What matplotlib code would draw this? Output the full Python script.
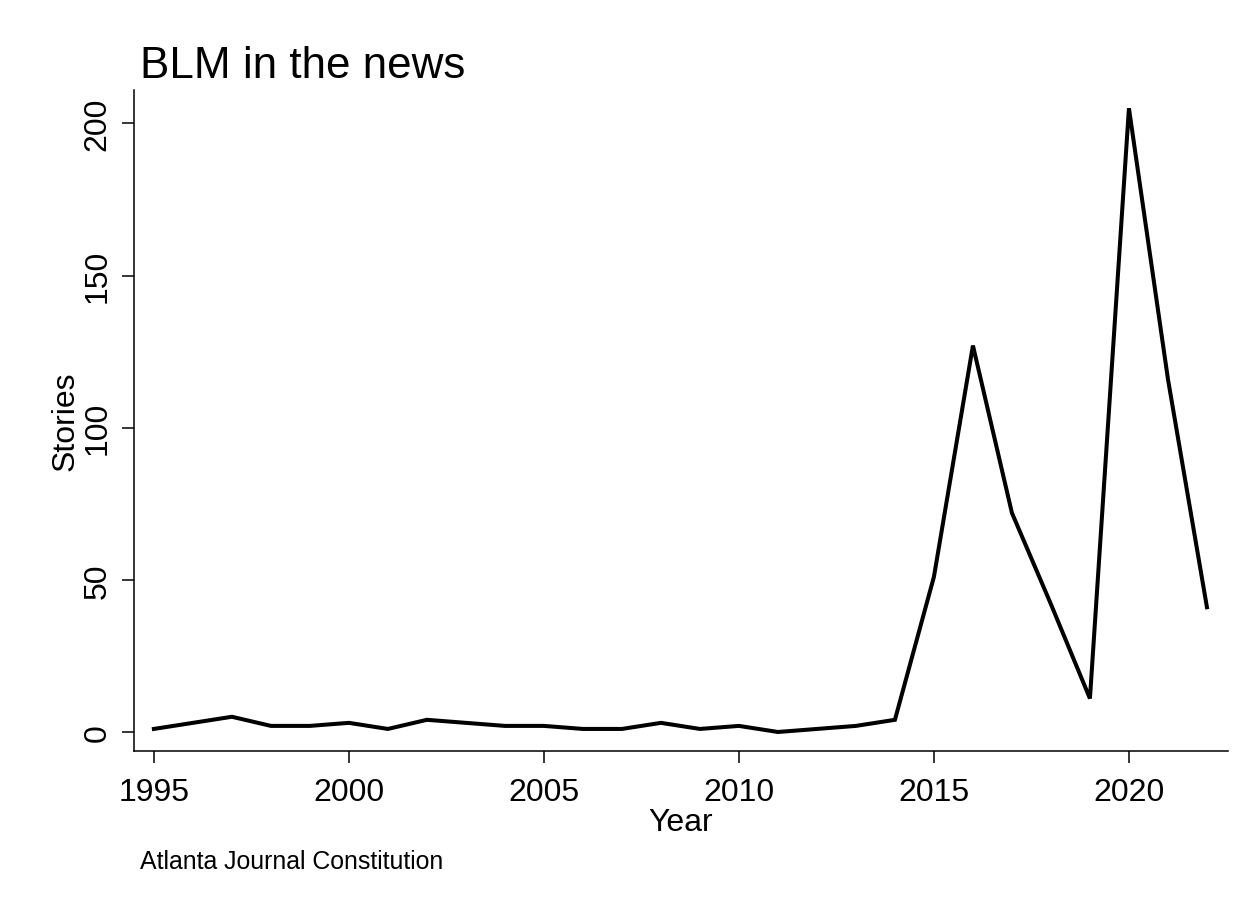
import matplotlib
matplotlib.use("Agg")
import matplotlib.pyplot as plt

years = list(range(1995, 2023))
stories = [1, 3, 5, 2, 2, 3, 1, 4, 3, 2, 2, 1, 1, 3, 1, 2, 0, 1, 2, 4,
           51, 127, 72, 42, 11, 205, 116, 41]
xticks = [1995, 2000, 2005, 2010, 2015, 2020]
yticks = [0, 50, 100, 150, 200]

plt.rcParams['font.family'] = ['Liberation Sans', 'DejaVu Sans']

W, H = 1256, 903
fig = plt.figure(figsize=(W / 100, H / 100), dpi=100)
ax = fig.add_axes([134 / W, 1 - 752 / H, (1228 - 134) / W, (752 - 91) / H])

ax.plot(years, stories, color='black', linewidth=2.9, solid_joinstyle='miter')

ax.set_xlim(1994.49, 2022.54)
ax.set_ylim(-6.25, 211)
ax.set_xticks(xticks)
ax.set_yticks(yticks)

for s in ['top', 'right']:
    ax.spines[s].set_visible(False)
for s in ['left', 'bottom']:
    ax.spines[s].set_linewidth(1.1)

ax.tick_params(axis='both', length=8.5, width=1.1, labelsize=23, color='black')
ax.tick_params(axis='x', pad=10)
ax.tick_params(axis='y', pad=7, labelrotation=90)
for lab in ax.get_yticklabels():
    lab.set_va('center')

ax.set_xlabel('Year', fontsize=23)
ax.xaxis.set_label_coords(0.5, -0.085)
ax.xaxis.label.set_va('top')
ax.set_ylabel('Stories', fontsize=23)
ax.yaxis.set_label_coords(-0.063, 0.5)
ax.yaxis.label.set_va('center')

fig.text(140 / W, 1 - 78 / H, 'BLM in the news', fontsize=31.7, ha='left', va='baseline')
fig.text(140 / W, 1 - 869 / H, 'Atlanta Journal Constitution', fontsize=17.9, ha='left', va='baseline')

fig.savefig('out.png', dpi=100, facecolor='white')
